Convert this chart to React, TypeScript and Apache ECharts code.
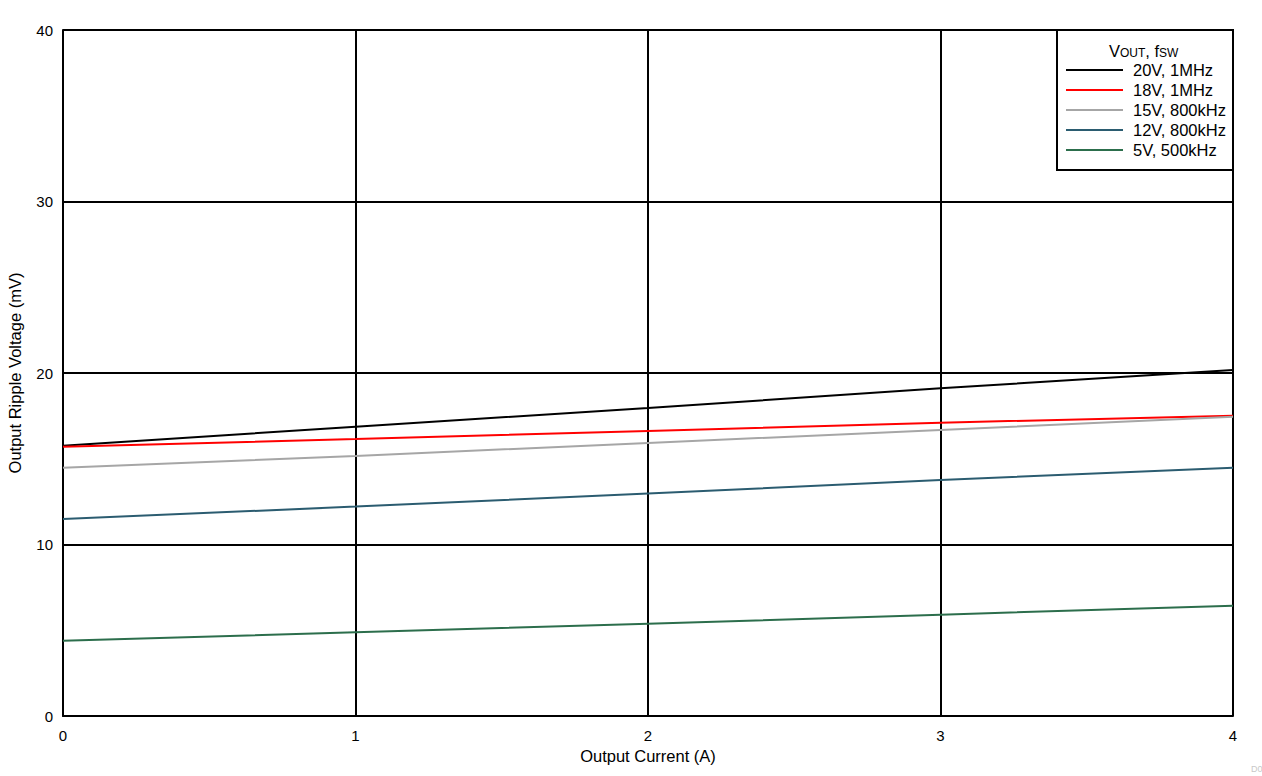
import React, { useEffect, useRef } from "react";
import * as echarts from "echarts";

const xValues = [0, 1, 2, 3, 4];
const v20 = [15.76, 16.87, 17.96, 19.11, 20.17];
const v18 = [15.7, 16.15, 16.62, 17.1, 17.51];
const v15 = [14.48, 15.16, 15.92, 16.68, 17.45];
const v12 = [11.49, 12.21, 12.97, 13.76, 14.48];
const v5 = [4.39, 4.88, 5.38, 5.91, 6.43];
const seriesNames = ["20V, 1MHz", "18V, 1MHz", "15V, 800kHz", "12V, 800kHz", "5V, 500kHz"];
const seriesValues = [v20, v18, v15, v12, v5];
const colors = ["#000000", "#ff0000", "#a6a6a6", "#2b5c70", "#2c6e4c"];

const FONT = "'Liberation Sans', Arial, sans-serif";

export default function App() {
  const ref = useRef<HTMLDivElement>(null);
  useEffect(() => {
    document.body.style.margin = "0";
    const chart = echarts.init(ref.current!, null, { renderer: "svg" });
    chart.setOption({
      animation: false,
      textStyle: { fontFamily: FONT },
      grid: { left: 63, right: 29, top: 30, bottom: 60, containLabel: false, outerBoundsMode: "none" },
      xAxis: {
        type: "value",
        min: 0,
        max: 4,
        interval: 1,
        name: "Output Current (A)",
        nameLocation: "middle",
        nameGap: 31,
        nameTextStyle: { fontFamily: FONT, fontSize: 16.5, color: "#000" },
        axisLine: { show: true, lineStyle: { color: "#000", width: 2 } },
        axisTick: { show: false },
        axisLabel: { fontFamily: FONT, fontSize: 15, color: "#000", margin: 12 },
        splitLine: { show: true, lineStyle: { color: "#000", width: 2 } },
      },
      yAxis: {
        type: "value",
        min: 0,
        max: 40,
        interval: 10,
        name: "Output Ripple Voltage (mV)",
        nameLocation: "middle",
        nameGap: 40,
        nameTextStyle: { fontFamily: FONT, fontSize: 16.5, color: "#000" },
        axisLine: { show: true, lineStyle: { color: "#000", width: 2 } },
        axisTick: { show: false },
        axisLabel: { fontFamily: FONT, fontSize: 15, color: "#000", margin: 10 },
        splitLine: { show: true, lineStyle: { color: "#000", width: 2 } },
      },
      legend: {
        orient: "vertical",
        left: 1066,
        top: 60,
        padding: 0,
        z: 10,
        icon: "rect",
        itemWidth: 57,
        itemHeight: 2,
        itemGap: 0,
        textStyle: { fontFamily: FONT, fontSize: 16.5, color: "#000", lineHeight: 20, padding: [0, 0, 0, 5] },
        data: seriesNames,
      },
      graphic: [
        {
          type: "rect",
          z: 5,
          shape: { x: 1057, y: 30, width: 176, height: 140 },
          style: { fill: "#fff", stroke: "#000", lineWidth: 2 },
        },
        {
          type: "text",
          z: 11,
          x: 1109,
          y: 40,
          style: {
            text: "{m|V}{s|OUT}{m|, f}{s|SW}",
            fill: "#000",
            rich: {
              m: { fontFamily: FONT, fontSize: 16.5, color: "#000", verticalAlign: "bottom", lineHeight: 19 },
              s: { fontFamily: FONT, fontSize: 12, color: "#000", verticalAlign: "bottom", lineHeight: 15 },
            },
          },
        },
        {
          type: "text",
          z: 11,
          x: 1251,
          y: 764,
          style: { text: "D0", fill: "#c8c8c8", fontFamily: FONT, fontSize: 9 },
        },
      ],
      series: seriesNames.map((name, i) => ({
        name,
        type: "line",
        showSymbol: false,
        symbol: "none",
        color: colors[i],
        lineStyle: { color: colors[i], width: 2 },
        data: xValues.map((x, j) => [x, seriesValues[i][j]]),
        z: 3,
      })),
    });
    return () => chart.dispose();
  }, []);
  return <div ref={ref} style={{ width: 1262, height: 776 }} />;
}
